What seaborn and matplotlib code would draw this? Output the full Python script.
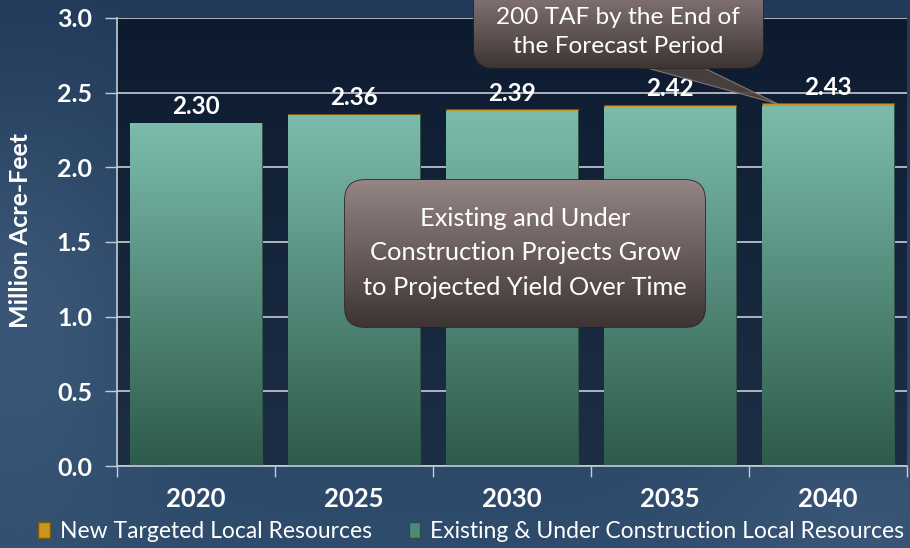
import numpy as np
import pandas as pd
import matplotlib.pyplot as plt
import seaborn as sns
from matplotlib.patches import FancyBboxPatch, Polygon, Patch
from matplotlib.colors import to_rgb

# Data (million acre-feet)
years = ['2020', '2025', '2030', '2035', '2040']
totals = [2.30, 2.36, 2.39, 2.42, 2.43]
existing = [2.295, 2.350, 2.378, 2.405, 2.410]
new_targeted = [0.005, 0.010, 0.012, 0.015, 0.020]

df = pd.DataFrame({'year': years, 'existing': existing,
                   'new': new_targeted, 'total': totals})

sns.set_theme(style='dark')
plt.rcParams['font.family'] = ['Lato', 'DejaVu Sans']

gold = '#c8961e'
teal = '#5a9a8a'
gridcol = '#c6ccd4'


def vgrad(top, bottom, n=256):
    a, b = np.array(to_rgb(top)), np.array(to_rgb(bottom))
    t = np.linspace(0, 1, n)[:, None]
    return (a * (1 - t) + b * t)[:, None, :]


fig = plt.figure(figsize=(9.1, 5.48), dpi=100)

# background of the slide
bg = fig.add_axes([0, 0, 1, 1], zorder=0)
h, w = 274, 455
yy, xx = np.mgrid[0:1:h * 1j, 0:1:w * 1j]
top_c = np.array(to_rgb('#213a5a'))
bot_c = np.array(to_rgb('#2f4c6c'))
img = top_c * (1 - yy[..., None]) + bot_c * yy[..., None]
img += 0.07 * np.exp(-((xx - 0.02) ** 2) / 0.02 - ((yy - 0.55) ** 2) / 0.15)[..., None]
img += 0.04 * np.exp(-((xx - 0.95) ** 2) / 0.03 - ((yy - 0.95) ** 2) / 0.05)[..., None]
bg.imshow(np.clip(img, 0, 1), extent=[0, 1, 0, 1], aspect='auto')
bg.axis('off')

# main chart
ax = fig.add_axes([0.1286, 0.1496, 0.868, 0.8176], zorder=1)
ax.patch.set_alpha(0)
ax.imshow(vgrad('#0d1b2f', '#1d2f47'), extent=[-0.5, 4.5, 0, 3],
          aspect='auto', zorder=0)

sns.barplot(data=df, x='year', y='total', color=gold, saturation=1,
            width=0.835, edgecolor='#7a5a12', linewidth=0.6, ax=ax)
sns.barplot(data=df, x='year', y='existing', color=teal, saturation=1,
            width=0.835, edgecolor='#2a5044', linewidth=0.6, ax=ax)

teal_grad = vgrad('#7cbcac', '#2d5a4b')
for p in ax.patches[len(years):]:
    x0, y0 = p.get_x(), p.get_y()
    im = ax.imshow(teal_grad, extent=[x0, x0 + p.get_width(), y0, y0 + p.get_height()],
                   aspect='auto', zorder=1.5)
    im.set_clip_path(p)

for i, v in enumerate(totals):
    ax.annotate(f'{v:.2f}', (i, v), xytext=(0, 3), textcoords='offset points',
                ha='center', va='bottom', color='white', fontsize=17.5,
                fontweight='bold', zorder=3)

ax.set_xlim(-0.5, 4.5)
ax.set_ylim(0, 3)
ax.set_yticks(np.arange(0, 3.01, 0.5))
ax.set_yticklabels([f'{t:.1f}' for t in np.arange(0, 3.01, 0.5)])
ax.set_xticks(np.arange(-0.5, 5, 1), minor=True)
ax.yaxis.grid(True, color=gridcol, linewidth=1.2)
ax.xaxis.grid(False)
ax.set_axisbelow(True)

ax.tick_params(axis='y', length=9, width=1, color=gridcol, pad=9,
               labelsize=18, labelcolor='white', left=True)
ax.tick_params(axis='x', which='major', length=0, pad=15,
               labelsize=18.5, labelcolor='white')
ax.tick_params(axis='x', which='minor', length=8, width=1,
               color=gridcol, bottom=True, direction='out')
for lbl in ax.get_xticklabels() + ax.get_yticklabels():
    lbl.set_fontweight('bold')

ax.set_xlabel('')
ax.set_ylabel('Million Acre-Feet', color='white', fontsize=18,
              fontweight='bold')
ax.yaxis.set_label_coords(-0.108, 0.525)
for s in ['top', 'right']:
    ax.spines[s].set_visible(False)
for s in ['left', 'bottom']:
    ax.spines[s].set_visible(True)
    ax.spines[s].set_color(gridcol)
    ax.spines[s].set_linewidth(1.2)

# callouts (pixel coordinates overlay)
fg = fig.add_axes([0, 0, 1, 1], zorder=3)
fg.axis('off')
fg.patch.set_alpha(0)
box_grad = vgrad('#958585', '#3e3434')


def callout(x, y, wd, ht, text, tx, ty, size, spacing, tail=None):
    if tail is not None:
        fg.add_patch(Polygon(tail, closed=True, facecolor='#4e4240',
                             edgecolor='#8a7c7a', linewidth=0.8, alpha=0.9))
    box = FancyBboxPatch((x, y), wd, ht, boxstyle='round,pad=0,rounding_size=20',
                         facecolor='#6a5c5b', edgecolor='#2b2424', linewidth=1.2)
    fg.add_patch(box)
    im = fg.imshow(box_grad, extent=[x, x + wd, y + ht, y], aspect='auto', zorder=2)
    im.set_clip_path(box)
    fg.text(tx, ty, text, ha='center', va='center', color='white',
            fontsize=size, linespacing=spacing, zorder=3)


callout(345, 180, 360, 147,
        'Existing and Under\nConstruction Projects Grow\nto Projected Yield Over Time',
        525, 253, 18.3, 1.58)
callout(474, -25, 289, 93, '200 TAF by the End of\nthe Forecast Period',
        618, 32, 17.6, 1.5, tail=[(640, 66), (700, 66), (778, 104)])
fg.set_xlim(0, 910)
fg.set_ylim(548, 0)

handles = [Patch(facecolor=gold, edgecolor='#7a5a12'),
           Patch(facecolor='#4e8a7a', edgecolor='#2a5044')]
fig.legend(handles, ['New Targeted Local Resources',
                     'Existing & Under Construction Local Resources'],
           loc='center', bbox_to_anchor=(0.518, 0.030), ncol=2, frameon=False,
           fontsize=16.5, handlelength=0.5, handleheight=0.75,
           handletextpad=0.45, columnspacing=1.6, labelcolor='white')

fig.savefig('out.png', dpi=100)
